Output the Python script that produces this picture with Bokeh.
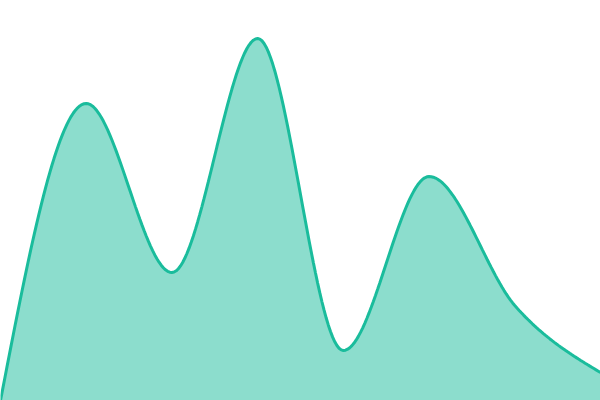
import numpy as np
from bokeh.plotting import figure
from bokeh.embed import file_html
from bokeh.resources import INLINE

# data
xs = [0, 1, 2, 3, 4, 5, 6, 7]
values = [0, 297, 128, 362, 50, 224, 95, 28]

def monotone_x(x, y, n=40):
    x = np.asarray(x, float); y = np.asarray(y, float)
    m = len(x)
    h = np.diff(x); s = np.diff(y) / h
    t = np.zeros(m)
    for i in range(1, m - 1):
        s0, s1 = s[i - 1], s[i]
        p = (s0 * h[i] + s1 * h[i - 1]) / (h[i - 1] + h[i])
        t[i] = (np.sign(s0) + np.sign(s1)) * min(abs(s0), abs(s1), 0.5 * abs(p))
    t[0] = (3 * s[0] - t[1]) / 2
    t[-1] = (3 * s[-1] - t[-2]) / 2
    ox, oy = [], []
    for i in range(m - 1):
        dx = h[i] / 3
        P0 = (x[i], y[i]); P1 = (x[i] + dx, y[i] + dx * t[i])
        P2 = (x[i + 1] - dx, y[i + 1] - dx * t[i + 1]); P3 = (x[i + 1], y[i + 1])
        u = np.linspace(0, 1, n, endpoint=(i == m - 2))
        bx = (1-u)**3*P0[0] + 3*(1-u)**2*u*P1[0] + 3*(1-u)*u**2*P2[0] + u**3*P3[0]
        by = (1-u)**3*P0[1] + 3*(1-u)**2*u*P1[1] + 3*(1-u)*u**2*P2[1] + u**3*P3[1]
        ox.extend(bx); oy.extend(by)
    return ox, oy

cx, cy = monotone_x(xs, values)

p = figure(width=600, height=400, output_backend="svg", toolbar_location=None,
           x_range=(0, 7), y_range=(0, 400), min_border=0)
p.axis.visible = False
p.grid.visible = False
p.outline_line_color = None
p.background_fill_color = "white"

p.patch(cx + [cx[-1], cx[0]], cy + [0, 0], fill_color="#1abc9c", fill_alpha=0.5, line_color=None)
p.line(cx, cy, line_color="#1abc9c", line_width=3)

open("out.html", "w").write(file_html(p, INLINE))
